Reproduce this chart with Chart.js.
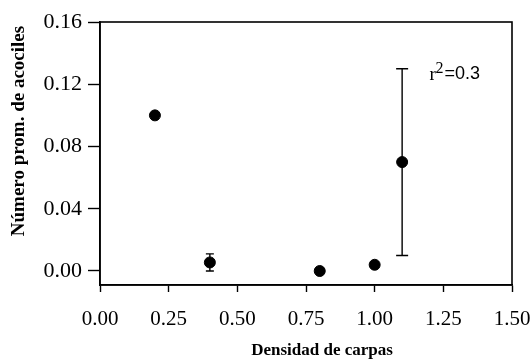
<!DOCTYPE html>
<html>
<head>
<meta charset="utf-8">
<script src="https://cdn.jsdelivr.net/npm/chart.js@4.4.1/dist/chart.umd.min.js"></script>
<style>
html,body{margin:0;padding:0;background:#fff;}
#wrap{width:531px;height:359px;position:relative;}
</style>
</head>
<body>
<div id="wrap"><canvas id="c" width="531" height="359"></canvas></div>
<script>
// Data
const densidad = [0.2, 0.4, 0.8, 1.0, 1.1];
const acociles = [0.100, 0.0055, 0.000, 0.004, 0.070];
const errores  = [0.000, 0.0055, 0.000, 0.002, 0.060];
const xTicks = [0, 0.25, 0.5, 0.75, 1.0, 1.25, 1.5];
const yTicks = [0, 0.04, 0.08, 0.12, 0.16];
const xTitle = 'Densidad de carpas';
const yTitle = 'Número prom. de acociles';
const r2Value = '=0.3';

const serif = '"Liberation Serif", "Times New Roman", serif';

const decor = {
  id: 'decor',
  afterDatasetsDraw(chart) {
    const ctx = chart.ctx, a = chart.chartArea;
    const xs = chart.scales.x, ys = chart.scales.y;
    ctx.save();
    // box
    ctx.strokeStyle = '#000';
    ctx.lineWidth = 1.6;
    ctx.strokeRect(a.left, a.top, a.right - a.left, a.bottom - a.top);
    // error bars
    ctx.lineWidth = 1.4;
    densidad.forEach((d, i) => {
      const e = errores[i];
      if (!e) return;
      const px = xs.getPixelForValue(d);
      const hi = ys.getPixelForValue(acociles[i] + e);
      const lo = ys.getPixelForValue(Math.max(0, acociles[i] - e));
      const cap = e > 0.02 ? 6 : 4;
      ctx.beginPath();
      ctx.moveTo(px, hi); ctx.lineTo(px, lo);
      ctx.moveTo(px - cap, hi); ctx.lineTo(px + cap, hi);
      ctx.moveTo(px - cap, lo); ctx.lineTo(px + cap, lo);
      ctx.stroke();
    });
    // r^2 annotation
    ctx.fillStyle = '#000';
    ctx.textBaseline = 'alphabetic';
    ctx.textAlign = 'left';
    const tx = xs.getPixelForValue(1.2);
    const ty = ys.getPixelForValue(0.12) - 4;
    ctx.font = '19px ' + serif;
    ctx.fillText('r', tx, ty);
    ctx.font = '16px ' + serif;
    ctx.fillText('2', tx + 6, ty - 7);
    ctx.font = '18px "Liberation Sans", Arial, sans-serif';
    ctx.fillText(r2Value, tx + 15, ty - 1);
    // axis titles
    ctx.font = 'bold 17px ' + serif;
    ctx.textAlign = 'center';
    ctx.textBaseline = 'middle';
    ctx.fillText(xTitle, 322, 351);
    ctx.save();
    ctx.translate(19, 131);
    ctx.rotate(-Math.PI / 2);
    ctx.font = 'bold 19px ' + serif;
    ctx.fillText(yTitle, 0, 0);
    ctx.restore();
    ctx.restore();
  }
};

new Chart(document.getElementById('c'), {
  type: 'scatter',
  data: {
    datasets: [{
      data: densidad.map((d, i) => ({x: d, y: acociles[i]})),
      backgroundColor: '#000',
      borderColor: '#000',
      pointRadius: 5.5,
      pointHoverRadius: 5.5
    }]
  },
  options: {
    responsive: false,
    animation: false,
    devicePixelRatio: 1,
    layout: { padding: { top: 22, right: 19, bottom: 0, left: 0 } },
    plugins: { legend: { display: false }, tooltip: { enabled: false } },
    scales: {
      x: {
        type: 'linear', min: 0, max: 1.5,
        afterBuildTicks: s => { s.ticks = xTicks.map(v => ({value: v})); },
        afterFit: s => { s.height = 74; s.paddingLeft = 0; s.paddingRight = 0; },
        grid: { drawOnChartArea: false, tickLength: 7, tickColor: '#000', tickWidth: 1.4 },
        border: { display: true, color: '#000', width: 1.6 },
        ticks: {
          color: '#000', padding: 15, maxRotation: 0,
          font: { family: serif, size: 21 },
          callback: v => Number(v).toFixed(2)
        }
      },
      y: {
        type: 'linear', min: -0.009, max: 0.16,
        afterBuildTicks: s => { s.ticks = yTicks.map(v => ({value: v})); },
        afterFit: s => { s.width = 100; s.paddingTop = 0; s.paddingBottom = 0; },
        grid: { drawOnChartArea: false, tickLength: 12, tickColor: '#000', tickWidth: 1.4 },
        border: { display: true, color: '#000', width: 1.6 },
        ticks: {
          color: '#000', padding: 6,
          font: { family: serif, size: 22 },
          callback: v => Number(v).toFixed(2)
        }
      }
    }
  },
  plugins: [decor]
});
</script>
</body>
</html>
